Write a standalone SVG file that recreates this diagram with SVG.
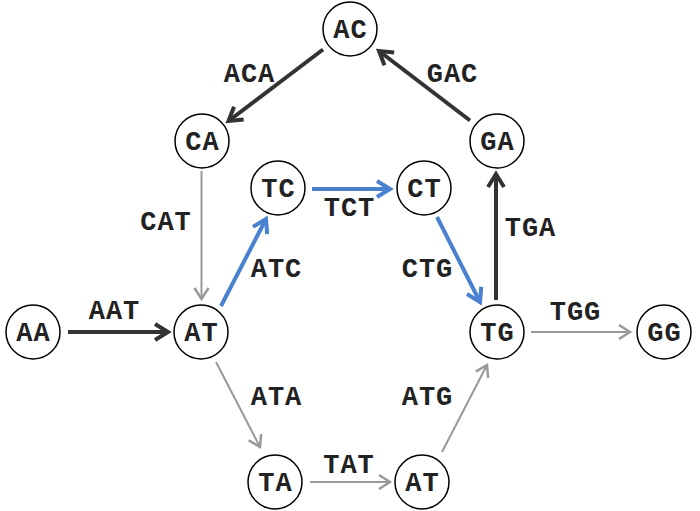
<svg xmlns="http://www.w3.org/2000/svg" width="700" height="511" viewBox="0 0 700 511">
<style>
.node circle{fill:#fff;stroke:#000;stroke-width:1.5}
text{font-family:"Liberation Mono","Courier New",monospace;font-weight:bold;font-size:27px;letter-spacing:1px;fill:#222;text-anchor:middle}
.dark{stroke:#333;stroke-width:4;fill:none}
.blue{stroke:#4a80d0;stroke-width:4;fill:none}
.gray{stroke:#999;stroke-width:2;fill:none}
</style>
<defs>
<marker id="mDark" viewBox="-20 -12 24 24" markerWidth="24" markerHeight="24" refX="0" refY="0" orient="auto" markerUnits="userSpaceOnUse">
<path d="M-13,-8 L0,0 L-13,8" fill="none" stroke="#333" stroke-width="4"/>
</marker>
<marker id="mBlue" viewBox="-20 -12 24 24" markerWidth="24" markerHeight="24" refX="0" refY="0" orient="auto" markerUnits="userSpaceOnUse">
<path d="M-13,-8 L0,0 L-13,8" fill="none" stroke="#4a80d0" stroke-width="4"/>
</marker>
<marker id="mGray" viewBox="-20 -12 24 24" markerWidth="24" markerHeight="24" refX="0" refY="0" orient="auto" markerUnits="userSpaceOnUse">
<path d="M-11,-7 L0,0 L-11,7" fill="none" stroke="#999" stroke-width="2.5"/>
</marker>
</defs>
<g id="connectors">
<line class="dark" x1="323" y1="49.5" x2="228.5" y2="121" marker-end="url(#mDark)"/>
<line class="dark" x1="470" y1="120.5" x2="379" y2="51" marker-end="url(#mDark)"/>
<line class="gray" x1="201.5" y1="171" x2="201.5" y2="299" marker-end="url(#mGray)"/>
<line class="dark" x1="68" y1="332" x2="168" y2="332" marker-end="url(#mDark)"/>
<line class="blue" x1="221" y1="306" x2="266" y2="219" marker-end="url(#mBlue)"/>
<line class="blue" x1="312" y1="189" x2="390" y2="189" marker-end="url(#mBlue)"/>
<line class="blue" x1="437" y1="217" x2="480" y2="302" marker-end="url(#mBlue)"/>
<line class="dark" x1="496" y1="300" x2="496" y2="174" marker-end="url(#mDark)"/>
<line class="gray" x1="531" y1="332" x2="630" y2="332" marker-end="url(#mGray)"/>
<line class="gray" x1="216" y1="362" x2="260" y2="447" marker-end="url(#mGray)"/>
<line class="gray" x1="310" y1="482" x2="390" y2="482" marker-end="url(#mGray)"/>
<line class="gray" x1="442" y1="452" x2="487" y2="365" marker-end="url(#mGray)"/>
</g>
<g id="edge-labels">
<text x="249.5" y="82">ACA</text>
<text x="452.5" y="82">GAC</text>
<text x="166" y="230">CAT</text>
<text x="349.5" y="216">TCT</text>
<text x="276.5" y="277">ATC</text>
<text x="427.5" y="277">CTG</text>
<text x="530.5" y="236">TGA</text>
<text x="114.5" y="319">AAT</text>
<text x="575.5" y="320">TGG</text>
<text x="276.5" y="405">ATA</text>
<text x="427.5" y="405">ATG</text>
<text x="349" y="473">TAT</text>
</g>
<g id="node-AC" class="node"><circle cx="350" cy="29" r="27"/><text x="350.5" y="38">AC</text></g>
<g id="node-CA" class="node"><circle cx="202" cy="141" r="27"/><text x="202.5" y="150">CA</text></g>
<g id="node-GA" class="node"><circle cx="497" cy="141" r="27"/><text x="497.5" y="150">GA</text></g>
<g id="node-TC" class="node"><circle cx="278" cy="188" r="27"/><text x="278.5" y="197">TC</text></g>
<g id="node-CT" class="node"><circle cx="424" cy="188" r="27"/><text x="424.5" y="197">CT</text></g>
<g id="node-AA" class="node"><circle cx="33" cy="332" r="27"/><text x="33.5" y="341">AA</text></g>
<g id="node-AT" class="node"><circle cx="201" cy="332" r="27"/><text x="201.5" y="341">AT</text></g>
<g id="node-TG" class="node"><circle cx="497" cy="332" r="27"/><text x="497.5" y="341">TG</text></g>
<g id="node-GG" class="node"><circle cx="664" cy="332" r="27"/><text x="664.5" y="341">GG</text></g>
<g id="node-TA" class="node"><circle cx="275" cy="482" r="27"/><text x="275.5" y="491">TA</text></g>
<g id="node-AT2" class="node"><circle cx="422" cy="482" r="27"/><text x="422.5" y="491">AT</text></g>
</svg>
